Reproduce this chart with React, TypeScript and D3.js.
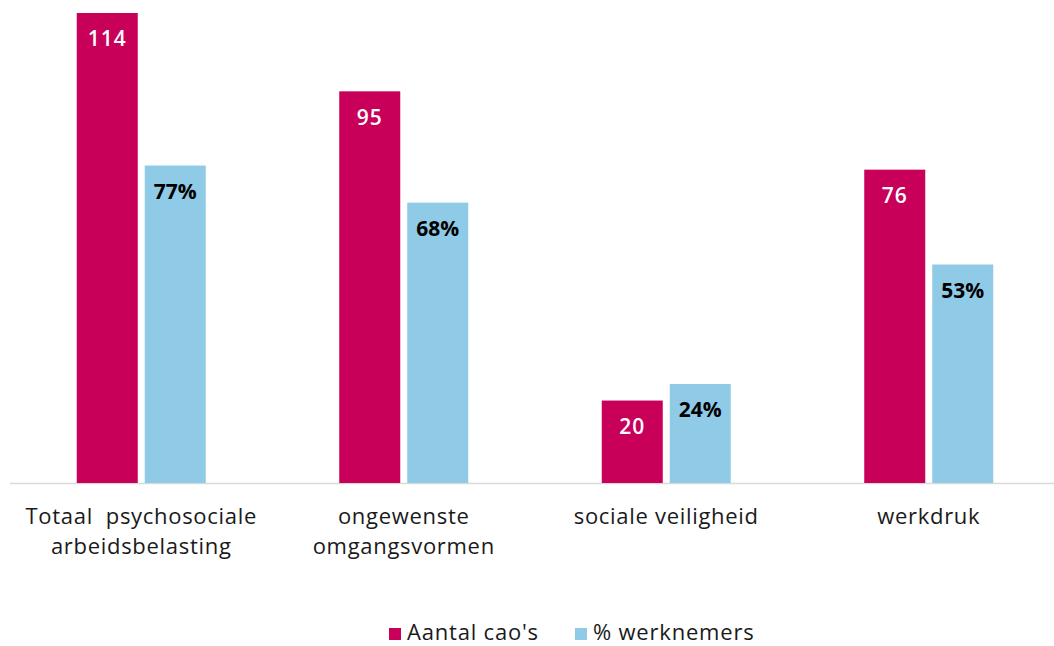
import { useEffect, useRef } from 'react';
import * as d3 from 'd3';

const categories = [
  ['Totaal  psychosociale', 'arbeidsbelasting'],
  ['ongewenste', 'omgangsvormen'],
  ['sociale veiligheid'],
  ['werkdruk'],
];
const aantalCaos = [114, 95, 20, 76];
const pctWerknemers = [77, 68, 24, 53];
const seriesNames = ["Aantal cao's", '% werknemers'];

const W = 1054;
const H = 646;
const PINK = '#c8005a';
const BLUE = '#8fcae7';
const FONT = '"Open Sans", "Noto Sans", sans-serif';

export default function App() {
  const svgRef = useRef<SVGSVGElement>(null);

  useEffect(() => {
    if (!svgRef.current) return;
    const svg = d3.select(svgRef.current);
    svg.selectAll('*').remove();

    const baseline = 483;
    const x = d3.scaleBand<number>().domain(d3.range(categories.length)).range([10, 1060]);
    const y = d3.scaleLinear().domain([0, 114]).range([baseline, 13]);
    const barW = 61;
    const gap = 7;

    // axis line
    svg.append('line')
      .attr('x1', 10).attr('x2', W)
      .attr('y1', baseline + 0.5).attr('y2', baseline + 0.5)
      .attr('stroke', '#d9d9d9').attr('stroke-width', 1.5);

    const g = svg.append('g');
    categories.forEach((_, i) => {
      const cx = (x(i) ?? 0) + x.bandwidth() / 2;
      const px = cx - gap / 2 - barW;
      const bx = cx + gap / 2;

      g.append('rect')
        .attr('x', px).attr('width', barW)
        .attr('y', y(aantalCaos[i])).attr('height', baseline - y(aantalCaos[i]))
        .attr('fill', PINK);
      g.append('rect')
        .attr('x', bx).attr('width', barW)
        .attr('y', y(pctWerknemers[i])).attr('height', baseline - y(pctWerknemers[i]))
        .attr('fill', BLUE);

      g.append('text')
        .attr('x', px + barW / 2).attr('y', y(aantalCaos[i]) + 26)
        .attr('dy', '0.35em')
        .attr('text-anchor', 'middle')
        .attr('font-family', FONT).attr('font-size', 21).attr('font-weight', 600)
        .attr('letter-spacing', '0.05em')
        .attr('fill', '#fff')
        .text(String(aantalCaos[i]));
      g.append('text')
        .attr('x', bx + barW / 2).attr('y', y(pctWerknemers[i]) + 26)
        .attr('dy', '0.35em')
        .attr('text-anchor', 'middle')
        .attr('font-family', FONT).attr('font-size', 21).attr('font-weight', 700)
        .attr('fill', '#000')
        .text(`${pctWerknemers[i]}%`);

      categories[i].forEach((line, j) => {
        g.append('text')
          .attr('x', cx).attr('y', 516 + j * 30)
          .attr('dy', '0.35em')
          .attr('text-anchor', 'middle')
          .attr('font-family', FONT).attr('font-size', 22)
          .attr('letter-spacing', '0.7px')
          .attr('fill', '#1a1a1a')
          .style('white-space', 'pre')
          .text(line);
      });
    });

    // legend
    const legendX = [389, 575];
    const legendColors = [PINK, BLUE];
    seriesNames.forEach((name, i) => {
      svg.append('rect')
        .attr('x', legendX[i]).attr('y', 628).attr('width', 12).attr('height', 12)
        .attr('fill', legendColors[i]);
      svg.append('text')
        .attr('x', legendX[i] + 18).attr('y', 632)
        .attr('dy', '0.35em')
        .attr('font-family', FONT).attr('font-size', 22)
        .attr('letter-spacing', '0.8px')
        .attr('fill', '#1a1a1a')
        .text(name);
    });
  }, []);

  return (
    <svg
      ref={svgRef}
      width={W}
      height={H}
      style={{ position: 'absolute', left: 0, top: 0, background: '#fff' }}
    />
  );
}
